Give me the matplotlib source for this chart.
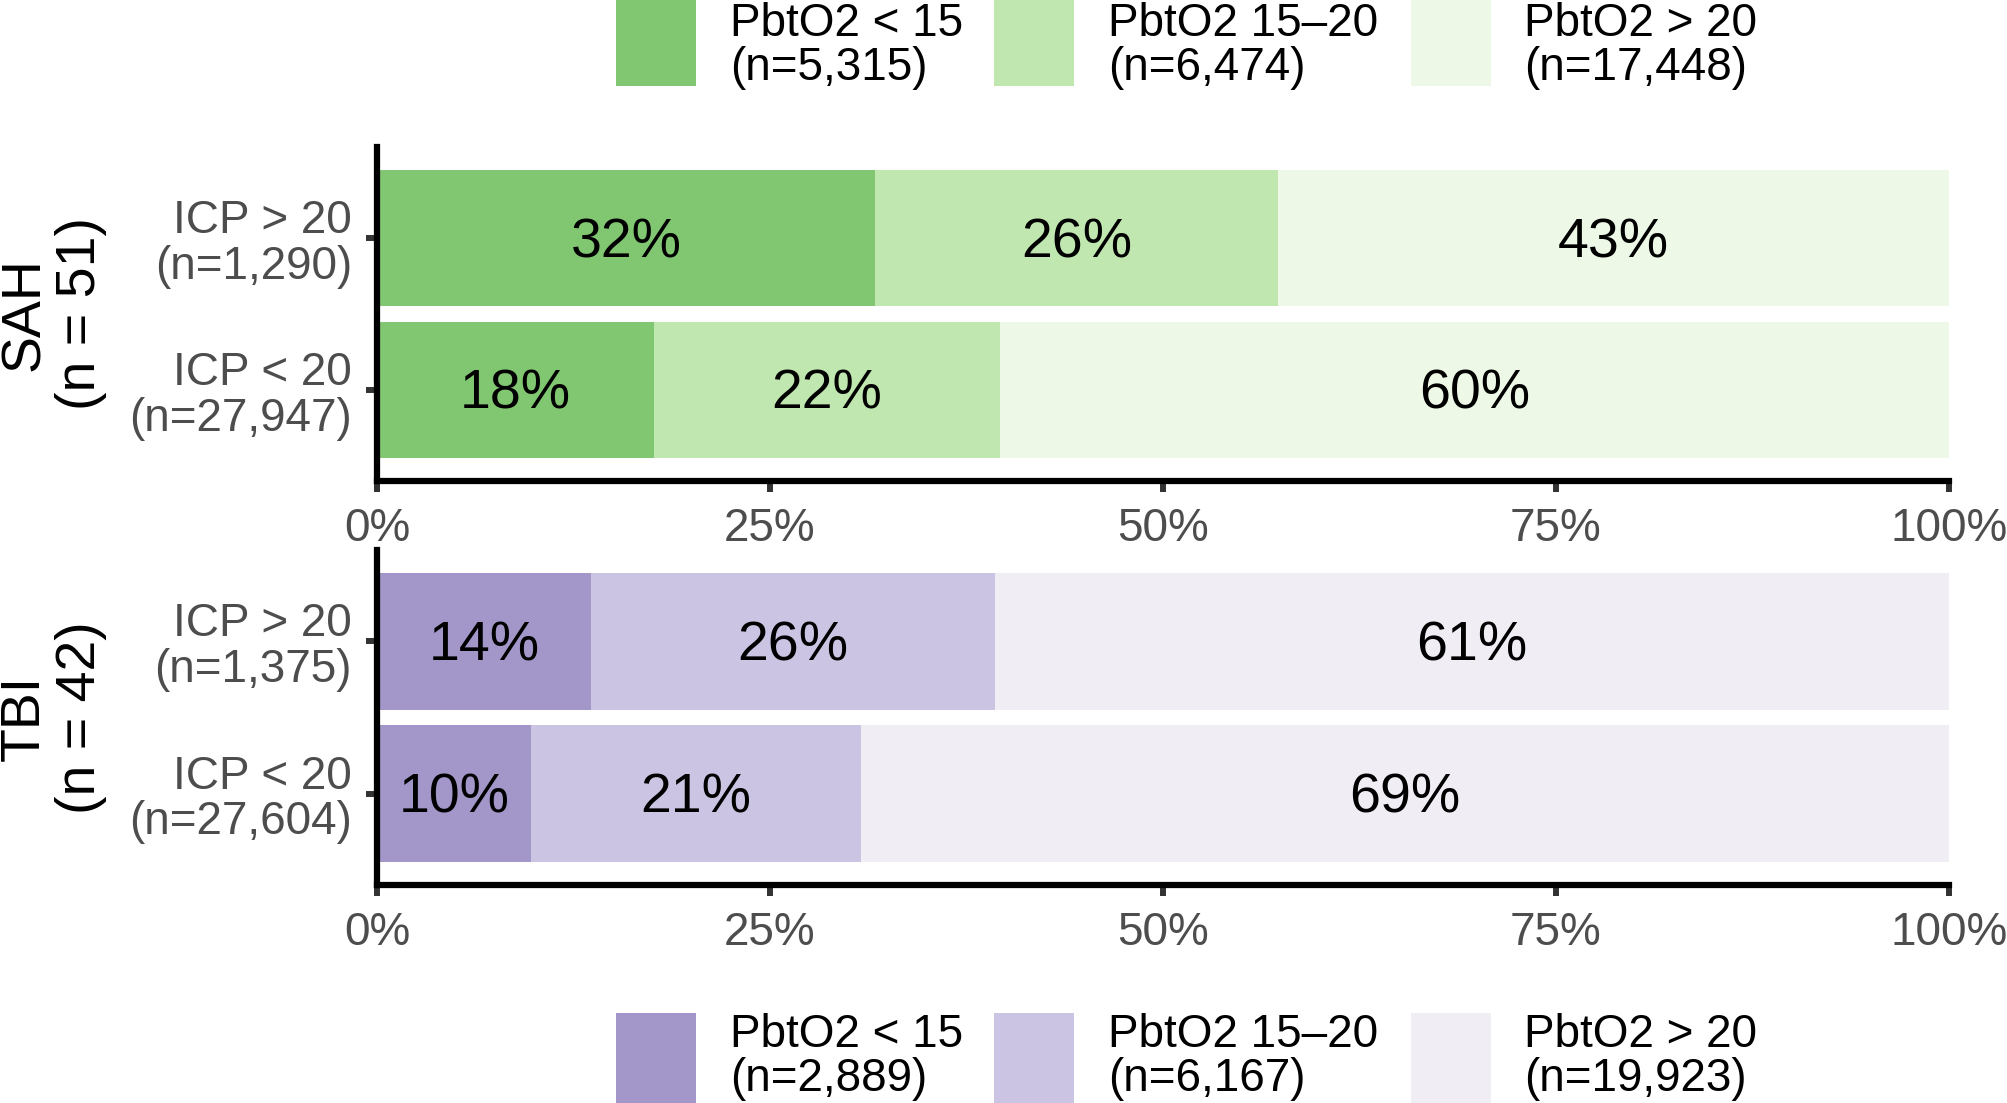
import matplotlib.pyplot as plt
from matplotlib.patches import Rectangle

plt.rcParams['font.family'] = ['Liberation Sans', 'DejaVu Sans']

# data
rows = ['ICP < 20', 'ICP > 20']
groups = ['SAH', 'TBI']
group_n = [51, 42]
row_n = {'SAH': ['27,947', '1,290'], 'TBI': ['27,604', '1,375']}
cats = ['PbtO2 < 15', 'PbtO2 15\u201320', 'PbtO2 > 20']
cat_n = {'SAH': ['5,315', '6,474', '17,448'], 'TBI': ['2,889', '6,167', '19,923']}
# percent per row (ICP < 20, ICP > 20), per PbtO2 category
sah_pct = [[17.6, 22.0, 60.4], [31.7, 25.6, 42.7]]
tbi_pct = [[9.8, 21.0, 69.2], [13.6, 25.7, 60.7]]
pcts = {'SAH': sah_pct, 'TBI': tbi_pct}
colors = {'SAH': ['#81c671', '#c1e7b0', '#edf8e7'],
          'TBI': ['#a297c8', '#cbc5e3', '#f0edf5']}

W, H = 2008, 1103
fig = plt.figure(figsize=(W / 100, H / 100), dpi=100)

def fx(px):
    return px / W

def fy(py):
    return 1 - py / H

# panel boxes in pixels: (top, bottom)
panels = {'SAH': (147, 481), 'TBI': (550, 885)}
x0, x1 = 377, 1949

for g, ng in zip(groups, group_n):
    top, bot = panels[g]
    ax = fig.add_axes([fx(x0), fy(bot), fx(x1) - fx(x0), fy(top) - fy(bot)])
    ypos = [1, 2]
    for yi, vals in zip(ypos, pcts[g]):
        left = 0
        for v, c in zip(vals, colors[g]):
            ax.barh(yi, v, left=left, height=0.9, color=c, linewidth=0)
            ax.annotate(f'{round(v)}%', (left + v / 2, yi), xytext=(0, -5),
                        textcoords='offset pixels', ha='center', va='center',
                        fontsize=40, color='black')
            left += v
    ax.set_xlim(0, 100)
    ax.set_ylim(0.4, 2.6)
    ax.set_xticks([0, 25, 50, 75, 100])
    ax.set_xticklabels(['0%', '25%', '50%', '75%', '100%'])
    ax.set_yticks(ypos)
    ax.set_yticklabels([f'{r}\n(n={n})' for r, n in zip(rows, row_n[g])],
                       linespacing=1.05, ha='right', multialignment='right')
    ax.tick_params(axis='both', colors='#333333', width=4.3, length=8,
                   labelsize=33, labelcolor='#4d4d4d')
    ax.tick_params(axis='x', pad=11)
    ax.tick_params(axis='y', pad=10)
    for s in ['top', 'right']:
        ax.spines[s].set_visible(False)
    for s in ['left', 'bottom']:
        ax.spines[s].set_linewidth(4.5)
        ax.spines[s].set_color('black')
    ax.set_facecolor('none')
    fig.text(fx(53), fy((top + bot) / 2), f'{g}\n(n = {ng})', rotation=90,
             ha='center', va='center', multialignment='center', fontsize=40,
             linespacing=1.12)

# legends (manual, ggplot style)
box_x = [616, 994, 1411]
text_x = [730, 1108, 1524]
legend_top = {'SAH': -14, 'TBI': 1013}
legend_text_y = {'SAH': 46, 'TBI': 1057}
for g in groups:
    t = legend_top[g]
    for bx, tx, c, lab, n in zip(box_x, text_x, colors[g], cats, cat_n[g]):
        fig.add_artist(Rectangle((fx(bx), fy(t + 100)), fx(80), 100 / H,
                                 transform=fig.transFigure, color=c, lw=0))
        fig.text(fx(tx), fy(legend_text_y[g]), f'{lab}\n(n={n})', ha='left',
                 va='center', fontsize=33, linespacing=1.02)

fig.savefig('out.png', dpi=100)
